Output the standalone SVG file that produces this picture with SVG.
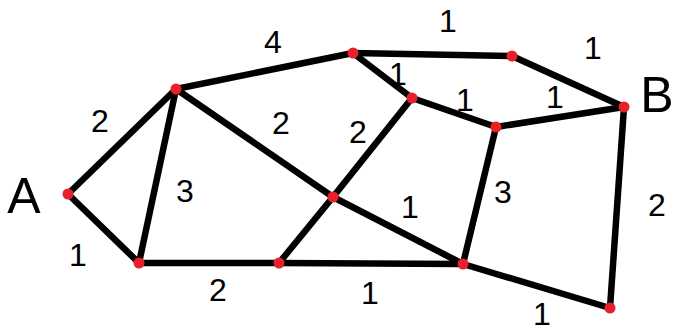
<svg xmlns="http://www.w3.org/2000/svg" width="673" height="331" viewBox="0 0 673 331">
<style>
.e{stroke:#000;stroke-width:6.5;stroke-linecap:round;fill:none}
.n{fill:#e8202a}
.w{font-family:"Liberation Sans",Arial,sans-serif;font-size:32px;fill:#000;text-anchor:middle}
.big{font-family:"Liberation Sans",Arial,sans-serif;font-size:50px;fill:#000;text-anchor:middle}
</style>
<rect width="673" height="331" fill="#fff"/>
<g id="connectors">
<line class="e" x1="68" y1="194" x2="176" y2="89"/>
<line class="e" x1="68" y1="194" x2="139" y2="263"/>
<line class="e" x1="176" y1="89" x2="139" y2="263"/>
<line class="e" x1="176" y1="89" x2="353" y2="53"/>
<line class="e" x1="176" y1="89" x2="333" y2="197"/>
<line class="e" x1="333" y1="197" x2="463" y2="264"/>
<line class="e" x1="139" y1="263" x2="279" y2="263"/>
<line class="e" x1="279" y1="263" x2="463" y2="264"/>
<line class="e" x1="279" y1="263" x2="333" y2="197"/>
<line class="e" x1="333" y1="197" x2="412" y2="98"/>
<line class="e" x1="353" y1="53" x2="512" y2="56"/>
<line class="e" x1="353" y1="53" x2="412" y2="98"/>
<line class="e" x1="512" y1="56" x2="624" y2="107"/>
<line class="e" x1="412" y1="98" x2="496" y2="127"/>
<line class="e" x1="496" y1="127" x2="624" y2="107"/>
<line class="e" x1="496" y1="127" x2="463" y2="264"/>
<line class="e" x1="624" y1="107" x2="610" y2="308"/>
<line class="e" x1="463" y1="264" x2="610" y2="308"/>
</g>
<g id="weights">
<text class="w" x="100" y="132">2</text>
<text class="w" x="273" y="53">4</text>
<text class="w" x="281" y="134">2</text>
<text class="w" x="448" y="32">1</text>
<text class="w" x="593" y="59">1</text>
<text class="w" x="398" y="85">1</text>
<text class="w" x="465" y="111">1</text>
<text class="w" x="555" y="108">1</text>
<text class="w" x="358" y="143">2</text>
<text class="w" x="185" y="202">3</text>
<text class="w" x="78" y="266">1</text>
<text class="w" x="218" y="301">2</text>
<text class="w" x="410" y="218">1</text>
<text class="w" x="503" y="203">3</text>
<text class="w" x="657" y="216">2</text>
<text class="w" x="370" y="304">1</text>
<text class="w" x="542" y="325">1</text>
</g>
<g id="node-A"><circle class="n" cx="68" cy="194" r="5.5"/><text class="big" x="24" y="213">A</text></g>
<g id="node-B"><circle class="n" cx="624" cy="107" r="5.5"/><text class="big" x="657" y="112">B</text></g>
<g id="node-1"><circle class="n" cx="176" cy="89" r="5.5"/></g>
<g id="node-2"><circle class="n" cx="139" cy="263" r="5.5"/></g>
<g id="node-3"><circle class="n" cx="353" cy="53" r="5.5"/></g>
<g id="node-4"><circle class="n" cx="512" cy="56" r="5.5"/></g>
<g id="node-5"><circle class="n" cx="412" cy="98" r="5.5"/></g>
<g id="node-6"><circle class="n" cx="496" cy="127" r="5.5"/></g>
<g id="node-7"><circle class="n" cx="333" cy="197" r="5.5"/></g>
<g id="node-8"><circle class="n" cx="279" cy="263" r="5.5"/></g>
<g id="node-9"><circle class="n" cx="463" cy="264" r="5.5"/></g>
<g id="node-10"><circle class="n" cx="610" cy="308" r="5.5"/></g>
</svg>
